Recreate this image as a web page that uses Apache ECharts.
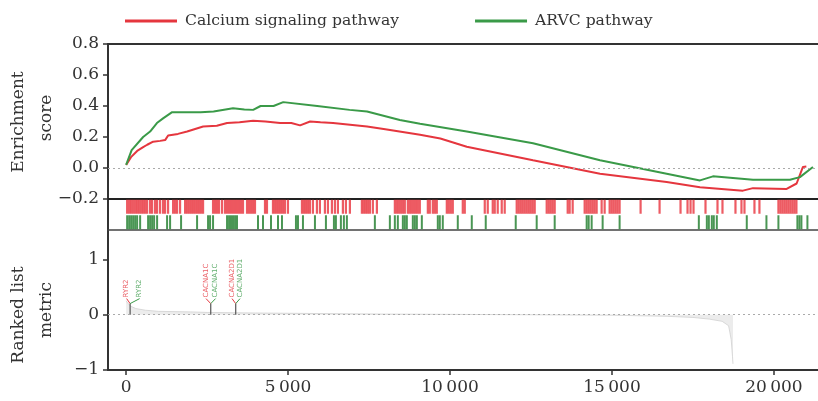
<!DOCTYPE html>
<html><head><meta charset="utf-8">
<script src="https://cdn.jsdelivr.net/npm/echarts@6/dist/echarts.min.js"></script>
<style>html,body{margin:0;padding:0;background:#fff}#c{width:818px;height:401px}</style>
</head><body><div id="c"></div>
<script>
const seriesNames = ['Calcium signaling pathway', 'ARVC pathway'];
const seriesColors = ['#e5363e', '#3a9a48'];

// Enrichment score curves: [rank, ES]
const calciumES = [[0,0.02],[31,0.03],[150,0.07],[340,0.11],[525,0.135],[650,0.15],[833,0.17],[1050,0.175],[1204,0.18],[1296,0.21],[1600,0.22],[1883,0.236],[2377,0.268],[2800,0.272],[3117,0.29],[3500,0.295],[3920,0.305],[4300,0.3],[4753,0.29],[5100,0.29],[5370,0.275],[5679,0.3],[6000,0.295],[6389,0.29],[7438,0.268],[8000,0.25],[9074,0.214],[9700,0.19],[10516,0.137],[12562,0.05],[14630,-0.037],[16688,-0.09],[17716,-0.124],[19043,-0.146],[19352,-0.13],[20392,-0.135],[20700,-0.1],[20895,0.007],[21000,0.01]];
const arvcES = [[0,0.02],[31,0.03],[170,0.115],[525,0.2],[740,0.235],[950,0.29],[1140,0.32],[1420,0.36],[2300,0.36],[2700,0.365],[3300,0.385],[3650,0.378],[3920,0.375],[4150,0.4],[4550,0.4],[4850,0.425],[5900,0.4],[6900,0.375],[7438,0.365],[8450,0.31],[9074,0.285],[10516,0.235],[12562,0.16],[14630,0.05],[16688,-0.037],[17716,-0.08],[18117,-0.054],[19352,-0.076],[20494,-0.076],[20802,-0.059],[21204,0.007]];

// Hit positions (ranks) of genes in each set
const calciumHits = [31,93,154,216,278,339,401,463,524,586,648,740,802,894,956,1049,1141,1203,1295,1449,1511,1573,1665,1820,1881,1943,2005,2066,2128,2190,2251,2313,2375,2683,2745,2806,2868,2961,3053,3115,3177,3238,3300,3362,3423,3485,3547,3608,3732,3793,3855,3917,3978,4287,4348,4533,4595,4657,4719,4780,4842,4904,4996,5428,5490,5551,5613,5675,5767,5890,5983,6137,6230,6353,6446,6538,6692,6785,6908,7278,7340,7402,7463,7525,7617,7741,8296,8358,8419,8481,8543,8604,8697,8759,8820,8882,8944,9005,9067,9314,9375,9468,9530,9591,9900,9961,10023,10085,10393,10455,11072,11164,11318,11380,11472,11596,11688,12058,12120,12182,12243,12305,12367,12429,12490,12552,12614,12984,13046,13107,13169,13231,13632,13693,13786,14156,14218,14280,14341,14403,14464,14526,14680,14773,14927,14989,15050,15112,15173,15235,15883,16469,17116,17332,17425,17517,17887,18257,18411,18812,18997,19090,19398,19552,20138,20200,20262,20324,20385,20447,20509,20571,20633,20694];
const arvcHits = [31,93,154,216,278,339,432,678,740,802,864,956,1264,1357,1696,2190,2529,2591,2683,3115,3177,3238,3300,3362,3423,4071,4225,4472,4688,4811,5243,5305,5459,5829,6168,6415,6476,6630,6723,6815,7679,8142,8296,8388,8543,8604,8666,8851,8913,8975,9129,9622,9684,9776,10239,10671,11102,12028,12675,13231,14218,14280,14372,14711,15235,17681,17928,17990,18082,18143,18236,19161,19768,20138,20724,20786,20848,21033];

// Ranked list metric
const metricRanks  = [0,   60,  150, 300,  600,  1000, 2000, 2500, 4000, 8000, 12000, 15000, 16700, 17500, 18000, 18400, 18600, 18680, 18720, 18735];
const metricValues = [0.25,0.2, 0.15,0.11, 0.08, 0.06, 0.05, 0.04, 0.03, 0.01, 0.0,  -0.01, -0.03, -0.05, -0.08, -0.12, -0.2, -0.45, -0.75, -0.89];

// Leading-edge gene annotations
const geneNames = ['RYR2', 'CACNA1C', 'CACNA2D1'];
const geneRanks = [123, 2612, 3383];
const geneRedLabelRanks = [15, 2467, 3269];
const geneGreenLabelRanks = [416, 2760, 3516];

const xTicks = [0, 5000, 10000, 15000, 20000];
const metricTicks = [-1, 0, 1];

const X_MIN = -560, X_MAX = 21360;
const FONT = 'DejaVu Serif';
const TXT = '#333';

const chart = echarts.init(document.getElementById('c'), null, {renderer: 'canvas'});

const baseX = (grid, pos, extra) => Object.assign({
  gridIndex: grid, type: 'value', min: X_MIN, max: X_MAX, position: pos,
  axisLine: {show: true, onZero: false, lineStyle: {color: '#333', width: 2}},
  axisTick: {show: false}, axisLabel: {show: false}, splitLine: {show: false}
}, extra || {});

const geneStemSeries = [];
geneNames.forEach((g, i) => {
  geneStemSeries.push({
    type: 'line', xAxisIndex: 3, yAxisIndex: 2, symbol: 'none', silent: true, z: 4,
    data: [[geneRanks[i], 0], [geneRanks[i], 0.2]],
    lineStyle: {color: '#555', width: 1.2}
  });
  geneStemSeries.push({
    type: 'line', xAxisIndex: 3, yAxisIndex: 2, symbol: 'none', silent: true, z: 4,
    data: [[geneRanks[i], 0.2], [geneRedLabelRanks[i], 0.29]],
    lineStyle: {color: seriesColors[0], width: 1}
  });
  geneStemSeries.push({
    type: 'line', xAxisIndex: 3, yAxisIndex: 2, symbol: 'none', silent: true, z: 4,
    data: [[geneRanks[i], 0.2], [geneGreenLabelRanks[i], 0.29]],
    lineStyle: {color: seriesColors[1], width: 1}
  });
});

const labelSeries = [0, 1].map(k => ({
  type: 'scatter', xAxisIndex: 3, yAxisIndex: 2, symbolSize: 0, silent: true, z: 5,
  data: geneNames.map((g, i) => ({name: g, value: [(k === 0 ? geneRedLabelRanks : geneGreenLabelRanks)[i], 0.31]})),
  label: {show: true, formatter: p => p.name, rotate: 90, position: 'inside', align: 'left', verticalAlign: 'middle',
    fontSize: 7, fontFamily: 'DejaVu Sans', color: seriesColors[k]}
}));

chart.setOption({
  animation: false,
  backgroundColor: '#fff',
  legend: {
    left: 120, top: 8, itemWidth: 52, itemHeight: 3, itemGap: 76,
    textStyle: {fontFamily: FONT, fontSize: 15.6, color: TXT, padding: [0, 0, 0, 3]},
    data: seriesNames.map(n => ({name: n, icon: 'rect'}))
  },
  grid: [
    {left: 108, right: 0, top: 44, height: 155},
    {left: 108, right: 0, top: 199, height: 31},
    {left: 108, right: 0, top: 230, height: 140}
  ],
  xAxis: [
    baseX(0, 'top'),
    baseX(1, 'top', {axisLine: {show: true, onZero: false, lineStyle: {color: '#222', width: 2}}}),
    baseX(1, 'bottom', {axisLine: {show: true, onZero: false, lineStyle: {color: '#444', width: 1.5}}}),
    baseX(2, 'bottom', {
      axisTick: {show: true, customValues: xTicks, length: 5, lineStyle: {color: '#333', width: 1.5}},
      axisLabel: {show: true, customValues: xTicks, margin: 9, fontFamily: FONT, fontSize: 17, color: TXT,
        formatter: v => v >= 1000 ? Math.floor(v / 1000) + '\u2009' + String(v % 1000).padStart(3, '0') : String(v)}
    })
  ],
  yAxis: [
    {gridIndex: 0, type: 'value', min: -0.2, max: 0.8, interval: 0.2,
      axisLine: {show: true, onZero: false, lineStyle: {color: '#333', width: 2}},
      axisTick: {show: true, length: 5, lineStyle: {color: '#333', width: 1.5}},
      axisLabel: {margin: 9, fontFamily: FONT, fontSize: 17, color: TXT,
        formatter: v => (v < -1e-9 ? '\u2212' : '') + Math.abs(v).toFixed(1)},
      splitLine: {show: false}},
    {gridIndex: 1, type: 'value', min: 0, max: 2,
      axisLine: {show: true, onZero: false, lineStyle: {color: '#333', width: 2}},
      axisTick: {show: false}, axisLabel: {show: false}, splitLine: {show: false}},
    {gridIndex: 2, type: 'value', min: -1, max: 1.53,
      axisLine: {show: true, onZero: false, lineStyle: {color: '#333', width: 2}},
      axisTick: {show: true, customValues: metricTicks, length: 5, lineStyle: {color: '#333', width: 1.5}},
      axisLabel: {customValues: metricTicks, margin: 9, fontFamily: FONT, fontSize: 17, color: TXT,
        formatter: v => (v < 0 ? '\u2212' : '') + Math.abs(v)},
      splitLine: {show: false}}
  ],
  graphic: [
    {type: 'text', x: 19, y: 122, rotation: Math.PI / 2, style: {text: 'Enrichment', font: '17px "DejaVu Serif"', fill: TXT, align: 'center', verticalAlign: 'middle', textAlign: 'center', textVerticalAlign: 'middle'}},
    {type: 'text', x: 47, y: 118, rotation: Math.PI / 2, style: {text: 'score', font: '17px "DejaVu Serif"', fill: TXT, align: 'center', verticalAlign: 'middle', textAlign: 'center', textVerticalAlign: 'middle'}},
    {type: 'text', x: 19, y: 315, rotation: Math.PI / 2, style: {text: 'Ranked list', font: '17px "DejaVu Serif"', fill: TXT, align: 'center', verticalAlign: 'middle', textAlign: 'center', textVerticalAlign: 'middle'}},
    {type: 'text', x: 47, y: 310, rotation: Math.PI / 2, style: {text: 'metric', font: '17px "DejaVu Serif"', fill: TXT, align: 'center', verticalAlign: 'middle', textAlign: 'center', textVerticalAlign: 'middle'}}
  ],
  series: [
    {name: seriesNames[0], type: 'line', xAxisIndex: 0, yAxisIndex: 0, data: calciumES, symbol: 'none', z: 3,
      itemStyle: {color: seriesColors[0]}, lineStyle: {color: seriesColors[0], width: 2},
      markLine: {silent: true, symbol: 'none', label: {show: false}, data: [{yAxis: 0}],
        lineStyle: {color: '#aaa', type: [2, 3], width: 1}}},
    {name: seriesNames[1], type: 'line', xAxisIndex: 0, yAxisIndex: 0, data: arvcES, symbol: 'none', z: 3,
      itemStyle: {color: seriesColors[1]}, lineStyle: {color: seriesColors[1], width: 2}},
    {name: 'calciumHits', type: 'scatter', xAxisIndex: 1, yAxisIndex: 1, silent: true,
      data: calciumHits.map(r => [r, 1.5]), symbol: 'rect', symbolSize: [2.2, 14],
      itemStyle: {color: '#e8323c', opacity: 0.8}},
    {name: 'arvcHits', type: 'scatter', xAxisIndex: 1, yAxisIndex: 1, silent: true,
      data: arvcHits.map(r => [r, 0.5]), symbol: 'rect', symbolSize: [2, 14],
      itemStyle: {color: '#2a8436', opacity: 0.85}},
    {name: 'metric', type: 'line', xAxisIndex: 3, yAxisIndex: 2, symbol: 'none', silent: true,
      data: metricRanks.map((r, i) => [r, metricValues[i]]),
      lineStyle: {color: '#d0d0d0', width: 0.8}, areaStyle: {color: '#e4e4e4'},
      markLine: {silent: true, symbol: 'none', label: {show: false}, data: [{yAxis: 0}],
        lineStyle: {color: '#aaa', type: [2, 3], width: 1}}},
    ...geneStemSeries,
    ...labelSeries
  ]
});
</script>
</body></html>
